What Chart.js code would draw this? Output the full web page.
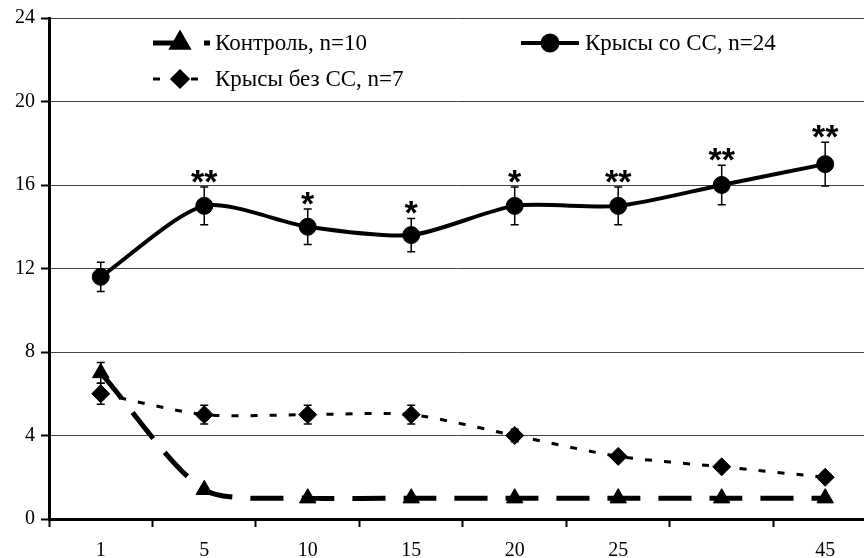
<!DOCTYPE html>
<html>
<head>
<meta charset="utf-8">
<script src="https://cdn.jsdelivr.net/npm/chart.js@4.4.0/dist/chart.umd.min.js"></script>
<style>
html, body { margin: 0; padding: 0; background: #fff; overflow: hidden; }
#wrap { width: 864px; height: 558px; position: relative; }
</style>
</head>
<body>
<div id="wrap"><canvas id="chart"></canvas></div>
<script>
// days of observation (one category has no label on the original)
var days = ['1', '5', '10', '15', '20', '25', '', '45'];

var control = [7, 1.4, 1, 1, 1, 1, 1, 1];
var controlErr = [0.5, 0, 0, 0, 0, 0, 0, 0];

var withCC = [11.6, 15, 14, 13.6, 15, 15, 16, 17];
var withCCErr = [0.7, 0.9, 0.85, 0.8, 0.9, 0.9, 0.95, 1.05];
var withCCStars = ['', '**', '*', '*', '*', '**', '**', '**'];

var withoutCC = [6, 5, 5, 5, 4, 3, 2.5, 2];
var withoutCCErr = [0.5, 0.45, 0.45, 0.45, 0.3, 0, 0, 0];

var yTicks = [0, 4, 8, 12, 16, 20, 24];

var serif = '"Liberation Serif", "Times New Roman", serif';

function toPoints(arr) {
	return arr.map(function(v, i) { return { x: i, y: v }; });
}

// vertical error bars + significance stars
var errorBars = {
	id: 'errorBars',
	afterDatasetsDraw: function(chart) {
		var ctx = chart.ctx;
		var y = chart.scales.y;
		chart.data.datasets.forEach(function(ds, i) {
			var meta = chart.getDatasetMeta(i);
			meta.data.forEach(function(pt, j) {
				var v = ds.data[j].y;
				var e = ds.errors[j];
				var top = y.getPixelForValue(v + e);
				if (e > 0) {
					var bot = y.getPixelForValue(v - e);
					ctx.save();
					ctx.strokeStyle = '#000';
					ctx.lineWidth = 1.5;
					ctx.beginPath();
					ctx.moveTo(pt.x, top); ctx.lineTo(pt.x, bot);
					ctx.moveTo(pt.x - 4, top); ctx.lineTo(pt.x + 4, top);
					ctx.moveTo(pt.x - 4, bot); ctx.lineTo(pt.x + 4, bot);
					ctx.stroke();
					ctx.restore();
				}
				if (ds.stars && ds.stars[j]) {
					ctx.save();
					ctx.fillStyle = '#000';
					ctx.font = 'bold 34px "Liberation Sans", Arial, sans-serif';
					ctx.textAlign = 'center';
					ctx.textBaseline = 'alphabetic';
					ctx.fillText(ds.stars[j], pt.x, top + 6);
					ctx.restore();
				}
			});
		});
	}
};

// legend placed inside the plot like the original
var insideLegend = {
	id: 'insideLegend',
	afterDraw: function(chart) {
		var ctx = chart.ctx;
		var items = [
			{ ds: 1, x1: 153, x2: 210, mx: 180, y: 43, tx: 215 },
			{ ds: 0, x1: 521, x2: 579, mx: 550, y: 43, tx: 585 },
			{ ds: 2, x1: 153, x2: 199, mx: 180, y: 79, tx: 215 }
		];
		items.forEach(function(it) {
			var ds = chart.data.datasets[it.ds];
			ctx.save();
			ctx.strokeStyle = '#000';
			ctx.lineWidth = ds.borderWidth;
			ctx.setLineDash(ds.borderDash || []);
			ctx.beginPath();
			ctx.moveTo(it.x1, it.y);
			ctx.lineTo(it.x2, it.y);
			ctx.stroke();
			ctx.setLineDash([]);
			ctx.fillStyle = '#000';
			Chart.helpers.drawPoint(ctx, {
				pointStyle: ds.pointStyle,
				radius: ds.pointRadius - 1,
				borderWidth: 1,
				rotation: 0
			}, it.mx, it.y);
			ctx.font = '23px ' + serif;
			ctx.textBaseline = 'middle';
			ctx.textAlign = 'left';
			ctx.fillText(ds.label, it.tx, it.y + 1);
			ctx.restore();
		});
	}
};

var chart = new Chart(document.getElementById('chart'), {
	type: 'line',
	data: {
		datasets: [
			{
				label: 'Крысы со СС, n=24',
				data: toPoints(withCC),
				errors: withCCErr,
				stars: withCCStars,
				borderColor: '#000',
				backgroundColor: '#000',
				borderWidth: 4,
				tension: 0.25,
				pointStyle: 'circle',
				pointRadius: 8.5,
				pointBorderWidth: 1
			},
			{
				label: 'Контроль, n=10',
				data: toPoints(control),
				errors: controlErr,
				borderColor: '#000',
				backgroundColor: '#000',
				borderWidth: 5,
				borderDash: [33, 18],
				tension: 0.25,
				pointStyle: 'triangle',
				pointRadius: 9.5,
				pointBorderWidth: 1
			},
			{
				label: 'Крысы без СС, n=7',
				data: toPoints(withoutCC),
				errors: withoutCCErr,
				borderColor: '#000',
				backgroundColor: '#000',
				borderWidth: 3,
				borderDash: [7, 12],
				tension: 0.25,
				pointStyle: 'rectRot',
				pointRadius: 9,
				pointBorderWidth: 1
			}
		]
	},
	options: {
		responsive: true,
		maintainAspectRatio: false,
		animation: false,
		layout: { autoPadding: false, padding: { top: 18, left: 0, right: 0, bottom: 0 } },
		plugins: {
			legend: { display: false },
			tooltip: { enabled: false }
		},
		scales: {
			x: {
				type: 'linear',
				min: -0.5,
				max: 7.375,
				afterBuildTicks: function(scale) {
					var t = [];
					for (var v = -0.5; v <= 7; v += 0.5) t.push({ value: v });
					scale.ticks = t;
				},
				afterFit: function(scale) {
					scale.height = 39;
					scale.paddingLeft = 0;
					scale.paddingRight = 0;
				},
				grid: {
					drawOnChartArea: false,
					drawTicks: true,
					tickLength: 8,
					tickWidth: 2,
					tickColor: function(c) {
						return (c.tick && Number.isInteger(c.tick.value)) ? 'rgba(0,0,0,0)' : '#000';
					}
				},
				border: { color: '#000', width: 3 },
				ticks: {
					autoSkip: false,
					maxRotation: 0,
					padding: 12,
					color: '#000',
					font: { family: serif, size: 20 },
					callback: function(v) {
						return Number.isInteger(v) ? days[v] : '';
					}
				}
			},
			y: {
				min: 0,
				max: 24,
				afterBuildTicks: function(scale) {
					scale.ticks = yTicks.map(function(v) { return { value: v }; });
				},
				afterFit: function(scale) {
					scale.width = 49;
					scale.paddingTop = 0;
					scale.paddingBottom = 0;
				},
				grid: {
					color: '#444',
					lineWidth: 1,
					tickLength: 8,
					tickWidth: 2,
					tickColor: '#000'
				},
				border: { color: '#000', width: 3 },
				ticks: {
					padding: 6,
					color: '#000',
					font: { family: serif, size: 20 }
				}
			}
		}
	},
	plugins: [errorBars, insideLegend]
});
</script>
</body>
</html>
